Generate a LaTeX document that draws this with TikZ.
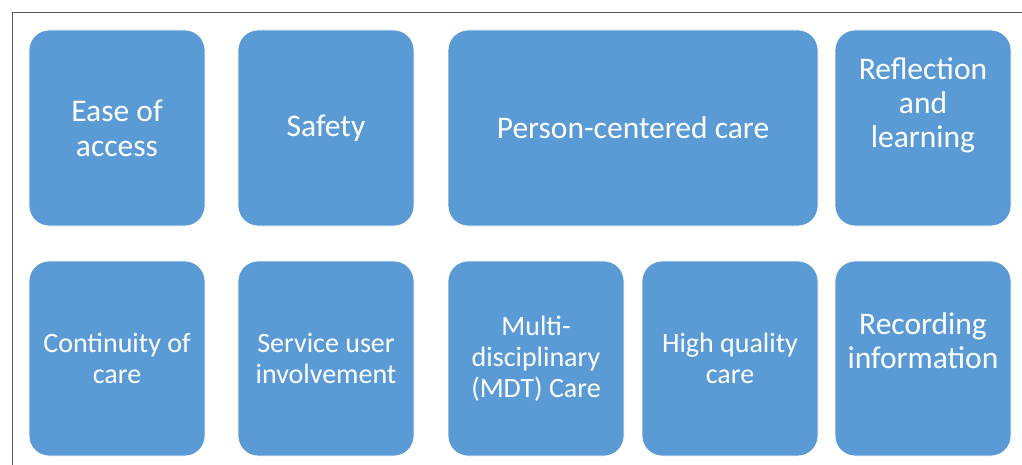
\documentclass[tikz,border=0pt]{standalone}
\usepackage{fontspec}
\setmainfont{Carlito}
\usepackage{tikz}

\definecolor{tileblue}{HTML}{5B9BD5}
\definecolor{framegray}{HTML}{595959}

\tikzset{
  card/.style={draw=white, line width=0.8pt, fill=tileblue, rounded corners=20pt,
    inner sep=0pt, text=white, align=center},
  bigtext/.style={font=\fontsize{31.5}{35}\selectfont},
  smalltext/.style={font=\fontsize{28}{31}\selectfont},
  midtext/.style={font=\fontsize{31.5}{34}\selectfont},
  tilelabel/.style={text=white, align=center, inner sep=0pt}
}

\begin{document}
\begin{tikzpicture}[x=1pt, y=-1pt]
      % Fix the page size
      \useasboundingbox (0,0) rectangle (1022,465);

      % Frame lines
      \coordinate (frameBL) at (12,465);
      \coordinate (frameTL) at (12,12);
      \coordinate (frameTR) at (1022,12);
      \draw[framegray, line width=0.8pt] (frameBL) -- (frameTL) -- (frameTR);

      % Top row
      \node[card, bigtext, minimum width=176pt, minimum height=196pt] (access) at (117,128) {Ease of\\access};
      \node[card, bigtext, minimum width=176pt, minimum height=196pt] (safety) at (326,128) {Safety};
      \node[card, bigtext, minimum width=370pt, minimum height=196pt] (person) at (633,128) {Person-centered care};
      \node[card, minimum width=176pt, minimum height=196pt,
        label={[tilelabel, midtext, yshift=23pt]center:Reflection\\and\\learning}] (reflect) at (923,128) {};

      % Bottom row
      \node[card, smalltext, minimum width=176pt, minimum height=195pt] (continuity) at (117,358.5) {Continuity of\\care};
      \node[card, smalltext, minimum width=176pt, minimum height=195pt] (involve) at (326,358.5) {Service user\\involvement};
      \node[card, smalltext, minimum width=176pt, minimum height=195pt] (mdt) at (536,358.5) {Multi-\\disciplinary\\(MDT) Care};
      \node[card, smalltext, minimum width=176pt, minimum height=195pt] (quality) at (730,358.5) {High quality\\care};
      \node[card, minimum width=176pt, minimum height=195pt,
        label={[tilelabel, midtext, yshift=18pt]center:Recording\\information}] (record) at (923,358.5) {};
    \end{tikzpicture}
\end{document}
